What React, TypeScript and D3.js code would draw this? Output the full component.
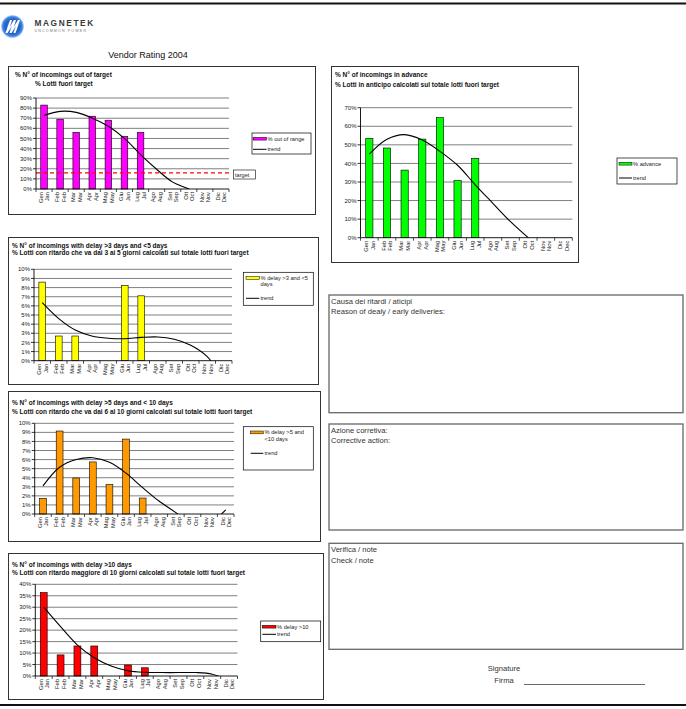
import React from "react";
import * as d3 from "d3";

const months = ["Gen", "Feb", "Mar", "Apr", "Mag", "Giu", "Lug", "Ago", "Set", "Ott", "Nov", "Dic"];
const monthsEn = ["Jan", "Feb", "Mar", "Apr", "May", "Jun", "Jul", "Aug", "Sep", "Oct", "Nov", "Dec"];

// % out of target
const outOfTarget = [83, 69, 56, 72, 68, 52, 56, 0, 0, 0, 0, 0];
const outOfTargetTrend = [72.8, 76.8, 75.8, 70, 62, 50, 34, 19.5, 6.8, 0, -9, -20];
const targetValue = 16;

// % in advance
const advance = [53.5, 48.3, 36.4, 53.1, 64.7, 30.7, 42.7, 0, 0, 0, 0, 0];
const advanceTrend = [45, 53, 55.5, 52.6, 46.5, 39, 28.5, 18.5, 8.6, 0, -8, -16];

// % delay >3 and <5 days
const delay3to5 = [8.6, 2.7, 2.7, 0, 0, 8.25, 7.1, 0, 0, 0, 0, 0];
const delay3to5Trend = [6.35, 4.6, 3.35, 2.7, 2.45, 2.4, 2.55, 2.6, 2.35, 1.7, 0.45, -2.2];

// % delay >5 and <10 days
const delay5to10 = [1.73, 9.15, 3.97, 5.74, 3.24, 8.26, 1.76, 0, 0, 0, 0, 0];
const delay5to10Trend = [3.1, 5.15, 6.0, 6.2, 5.7, 4.5, 2.9, 1.4, 0.15, -1.2, -1.0, 0.45];

// % delay >10 days
const delay10 = [36.4, 9.2, 13.1, 13.1, 0, 4.8, 3.6, 0, 0, 0, 0, 0];
const delay10Trend = [30, 21.5, 13.5, 8.0, 4.4, 2.3, 1.6, 1.5, 1.5, 1.5, 0.8, -2];

const FONT = "Arial, 'Liberation Sans', Helvetica, sans-serif";

type Legend = { x: number; y: number; w: number; h: number; labels: string[]; lineY: number; textX: number; swatchX: number; swatchW: number };
type ChartCfg = {
  id: string;
  box: [number, number, number, number];
  plot: { left: number; right: number; top: number; bottom: number };
  yMax: number;
  yStep: number;
  titles: { text: string; x: number; y: number }[];
  values: number[];
  trend: number[];
  color: string;
  legend: Legend;
  target?: number;
};

const charts: ChartCfg[] = [
  {
    id: "c1",
    box: [8, 66, 315, 214],
    plot: { left: 36, right: 229, top: 98, bottom: 189 },
    yMax: 90,
    yStep: 10,
    titles: [
      { text: "% N° of incomings out of target", x: 15, y: 77 },
      { text: "% Lotti fuori target", x: 35, y: 86 },
    ],
    values: outOfTarget,
    trend: outOfTargetTrend,
    color: "#FF00FF",
    legend: { x: 252, y: 133, w: 59, h: 21, labels: ["% out of range"], lineY: 149.3, textX: 267.5, swatchX: 253, swatchW: 13.5 },
    target: targetValue,
  },
  {
    id: "c2",
    box: [331, 66, 578, 262],
    plot: { left: 360.5, right: 572.3, top: 107.7, bottom: 237.7 },
    yMax: 70,
    yStep: 10,
    titles: [
      { text: "% N° of incomings in advance", x: 335, y: 77 },
      { text: "% Lotti in anticipo calcolati sul totale lotti fuori target", x: 335, y: 86.5 },
    ],
    values: advance,
    trend: advanceTrend,
    color: "#00FF00",
    legend: { x: 617, y: 158, w: 60, h: 26, labels: ["% advance"], lineY: 178, textX: 633, swatchX: 619, swatchW: 13 },
  },
  {
    id: "c3",
    box: [8, 237, 318, 384],
    plot: { left: 34, right: 232, top: 269.3, bottom: 360.7 },
    yMax: 10,
    yStep: 1,
    titles: [
      { text: "% N° of incomings with delay >3 days and <5 days", x: 12, y: 248 },
      { text: "% Lotti con ritardo che va dai 3 ai 5 giorni calcolati sul totale lotti fuori target", x: 12, y: 255 },
    ],
    values: delay3to5,
    trend: delay3to5Trend,
    color: "#FFFF00",
    legend: { x: 243.3, y: 272.3, w: 70, h: 33, labels: ["% delay >3 and <5", "days"], lineY: 298.3, textX: 260.5, swatchX: 246, swatchW: 13.3 },
  },
  {
    id: "c4",
    box: [8, 391, 320, 541],
    plot: { left: 34.7, right: 234, top: 423.3, bottom: 514 },
    yMax: 10,
    yStep: 1,
    titles: [
      { text: "% N° of incomings with delay >5 days and < 10 days", x: 12, y: 405.3 },
      { text: "% Lotti con ritardo che va dai 6 al 10 giorni calcolati sul totale lotti fuori target", x: 12, y: 413.7 },
    ],
    values: delay5to10,
    trend: delay5to10Trend,
    color: "#FF9900",
    legend: { x: 243.3, y: 426.7, w: 70, h: 43.3, labels: ["% delay >5  and", "<10 days"], lineY: 453.3, textX: 264.5, swatchX: 250.7, swatchW: 12.6 },
  },
  {
    id: "c5",
    box: [8, 553, 323, 699],
    plot: { left: 35.3, right: 237.5, top: 584.3, bottom: 676 },
    yMax: 40,
    yStep: 5,
    titles: [
      { text: "% N° of incomings with delay >10 days", x: 12, y: 567 },
      { text: "% Lotti con ritardo maggiore di 10 giorni calcolati sul totale lotti fuori target", x: 12, y: 574.9 },
    ],
    values: delay10,
    trend: delay10Trend,
    color: "#FF0000",
    legend: { x: 260.7, y: 621, w: 60, h: 20.7, labels: ["% delay >10"], lineY: 634.3, textX: 277, swatchX: 262.3, swatchW: 13.7 },
  },
];

function Chart({ c }: { c: ChartCfg }) {
  const x = d3.scaleBand<string>().domain(months).range([c.plot.left, c.plot.right]);
  const y = d3.scaleLinear().domain([0, c.yMax]).range([c.plot.bottom, c.plot.top]);
  const ticks = d3.range(0, c.yMax + 0.0001, c.yStep);
  const bw = x.bandwidth();
  const barW = bw * 0.41;
  const cx = (i: number) => (x(months[i]) as number) + bw / 2;
  const line = d3
    .line<number>()
    .x((_, i) => cx(i))
    .y((d) => y(d))
    .curve(d3.curveCatmullRom.alpha(0.5));
  const [bx0, by0, bx1, by1] = c.box;
  const L = c.legend;
  return (
    <g>
      <rect x={bx0 + 0.5} y={by0 + 0.5} width={bx1 - bx0} height={by1 - by0} fill="#fff" stroke="#333" strokeWidth={1} />
      {c.titles.map((t, i) => (
        <text key={i} x={t.x} y={t.y} fontSize={6.5} fontWeight="bold" fontFamily={FONT} fill="#111">
          {t.text}
        </text>
      ))}
      <defs>
        <clipPath id={`clip-${c.id}`}>
          <rect x={c.plot.left} y={c.plot.top - 2} width={c.plot.right - c.plot.left} height={c.plot.bottom - c.plot.top + 2} />
        </clipPath>
      </defs>
      {ticks.map((t) => (
        <g key={t}>
          {t > 0 && (
            <line x1={c.plot.left} x2={c.plot.right} y1={y(t)} y2={y(t)} stroke="#808080" strokeWidth={1} />
          )}
          <line x1={c.plot.left - 3} x2={c.plot.left} y1={y(t)} y2={y(t)} stroke="#000" strokeWidth={0.8} />
          <text x={c.plot.left - 4} y={y(t) + 2.1} fontSize={6} textAnchor="end" fontFamily={FONT} fill="#222">
            {`${t}%`}
          </text>
        </g>
      ))}
      {c.values.map((v, i) =>
        v > 0 ? (
          <rect
            key={i}
            x={cx(i) - barW / 2}
            y={y(v)}
            width={barW}
            height={y(0) - y(v)}
            fill={c.color}
            stroke="#000"
            strokeWidth={0.6}
          />
        ) : null
      )}
      {c.target !== undefined && (
        <line
          x1={c.plot.left}
          x2={c.plot.right}
          y1={y(c.target)}
          y2={y(c.target)}
          stroke="#FF0000"
          strokeWidth={1.3}
          strokeDasharray="4,3"
        />
      )}
      <path d={line(c.trend) || ""} fill="none" stroke="#000" strokeWidth={1.1} clipPath={`url(#clip-${c.id})`} />
      <line x1={c.plot.left} x2={c.plot.left} y1={c.plot.top} y2={c.plot.bottom} stroke="#000" strokeWidth={0.9} />
      <line x1={c.plot.left} x2={c.plot.right} y1={c.plot.bottom} y2={c.plot.bottom} stroke="#000" strokeWidth={0.9} />
      {d3.range(0, months.length + 1).map((i) => {
        const xx = c.plot.left + i * bw;
        return <line key={i} x1={xx} x2={xx} y1={c.plot.bottom} y2={c.plot.bottom + 3} stroke="#000" strokeWidth={0.7} />;
      })}
      {months.map((m, i) => (
        <text
          key={m}
          transform={`translate(${cx(i)},${c.plot.bottom + 3}) rotate(-90)`}
          fontSize={5.8}
          textAnchor="end"
          fontFamily={FONT}
          fill="#222"
        >
          <tspan x={0} y={-1.2}>{m}</tspan>
          <tspan x={0} y={5.4}>{monthsEn[i]}</tspan>
        </text>
      ))}
      <rect x={L.x} y={L.y} width={L.w} height={L.h} fill="#fff" stroke="#000" strokeWidth={0.7} />
      <rect x={L.swatchX} y={L.y + 4.3} width={L.swatchW} height={2.8} fill={c.color} stroke="#000" strokeWidth={0.5} />
      {L.labels.map((s, i) => (
        <text key={i} x={L.textX} y={L.y + 7.6 + i * 6.4} fontSize={5.7} fontFamily={FONT} fill="#222">
          {s}
        </text>
      ))}
      <line x1={L.swatchX} x2={L.swatchX + L.swatchW} y1={L.lineY} y2={L.lineY} stroke="#000" strokeWidth={1} />
      <text x={L.textX} y={L.lineY + 2} fontSize={5.7} fontFamily={FONT} fill="#222">
        trend
      </text>
      {c.target !== undefined && (
        <g>
          <rect x={233.3} y={170} width={22} height={9} fill="#fff" stroke="#000" strokeWidth={0.6} />
          <text x={235} y={176.6} fontSize={5.6} fontFamily={FONT} fill="#222">
            target
          </text>
        </g>
      )}
    </g>
  );
}

const noteBoxes = [
  { y0: 295, y1: 412.7, lines: ["Causa dei ritardi / aticipi", "Reason of dealy / early deliveries:"] },
  { y0: 424, y1: 530, lines: ["Azione corretiva:", "Corrective action:"] },
  { y0: 543.3, y1: 649.3, lines: ["Verifica / note", "Check / note"] },
];

export default function App() {
  return (
    <svg
      width={686}
      height={709}
      viewBox="0 0 686 709"
      style={{ position: "absolute", left: 0, top: 0, background: "#fff" }}
    >
      <rect x={0} y={0} width={686} height={709} fill="#fff" />
      <line x1={0} x2={686} y1={3.5} y2={3.5} stroke="#111" strokeWidth={2} />
      <defs>
        <radialGradient id="logoGrad" cx="50%" cy="50%" r="50%">
          <stop offset="0%" stopColor="#6fa8e8" />
          <stop offset="60%" stopColor="#1f5fc0" />
          <stop offset="85%" stopColor="#3f86e0" />
          <stop offset="100%" stopColor="#cfe2fa" />
        </radialGradient>
      </defs>
      <circle cx={12.5} cy={26.5} r={11.5} fill="url(#logoGrad)" />
      <path
        d="M5.5,33 L10,20 L12,20 L9.5,27.5 L14,20 L16,20 L13.5,27.5 L18,20 L20,20 L15.5,33 L13.5,33 L16,25.5 L11.5,33 L9.5,33 L12,25.5 L7.5,33 Z"
        fill="#fff"
      />
      <text x={34.5} y={26} fontSize={8.3} fontWeight="bold" fontFamily={FONT} fill="#3a3a3a" letterSpacing={1.6}>
        MAGNETEK
      </text>
      <text x={34.5} y={32} fontSize={3.6} fontFamily={FONT} fill="#777" letterSpacing={1.15}>
        UNCOMMON POWER
      </text>
      <text x={108.3} y={58} fontSize={9} fontFamily={FONT} fill="#111">
        Vendor Rating 2004
      </text>
      {charts.map((c) => (
        <Chart key={c.id} c={c} />
      ))}
      {noteBoxes.map((b, i) => (
        <g key={i}>
          <rect x={329} y={b.y0} width={354} height={b.y1 - b.y0} fill="#fff" stroke="#666" strokeWidth={1.3} />
          {b.lines.map((s, j) => (
            <text key={j} x={331} y={b.y0 + 8.5 + j * 10.8} fontSize={7.6} fontFamily={FONT} fill="#333">
              {s}
            </text>
          ))}
        </g>
      ))}
      <text x={504} y={671} fontSize={7.6} fontFamily={FONT} fill="#333" textAnchor="middle">
        Signature
      </text>
      <text x={504} y={683} fontSize={7.6} fontFamily={FONT} fill="#333" textAnchor="middle">
        Firma
      </text>
      <line x1={524} x2={645} y1={684.5} y2={684.5} stroke="#444" strokeWidth={0.8} />
      <line x1={0} x2={686} y1={705} y2={705} stroke="#111" strokeWidth={2} />
    </svg>
  );
}
